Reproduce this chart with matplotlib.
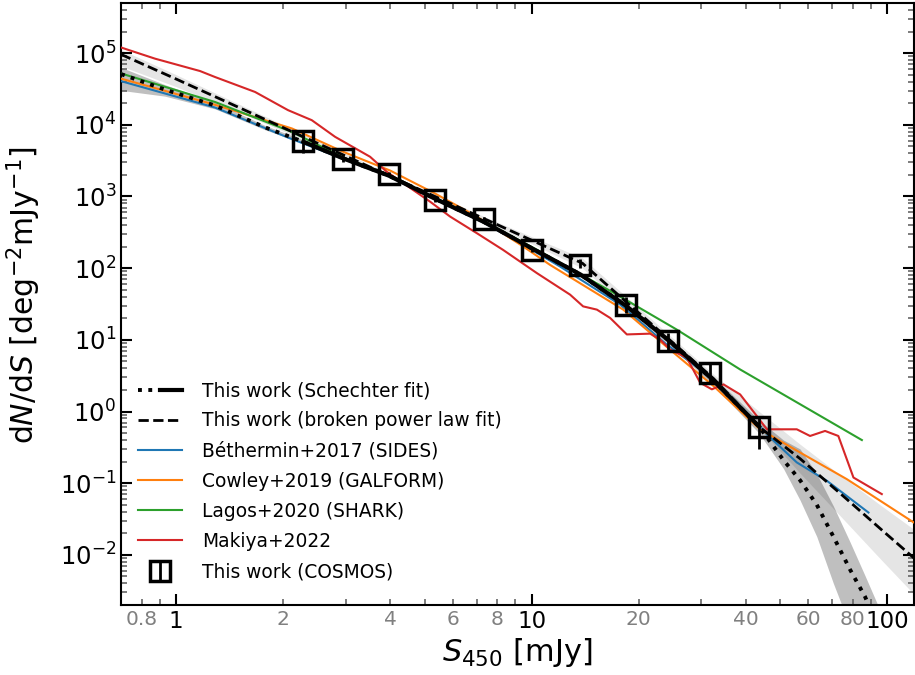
import numpy as np
import matplotlib
matplotlib.use('Agg')
import matplotlib.pyplot as plt
from matplotlib.lines import Line2D
from matplotlib.legend_handler import HandlerTuple
from matplotlib.ticker import LogLocator, FuncFormatter, NullFormatter

# This work (COSMOS) number counts
s_obs = np.array([2.28, 2.95, 3.97, 5.35, 7.35, 10.03, 13.7, 18.4, 24.2, 31.8, 43.6])
n_obs = np.array([5900, 3330, 2055, 894, 486, 180, 111, 31, 9.5, 3.5, 0.60])
err_lo = np.array([1850, 300, 150, 60, 30, 12, 12, 7, 2.6, 1.1, 0.30])
err_hi = np.array([2000, 300, 150, 60, 30, 12, 25, 9, 3.0, 1.3, 0.27])

# Schechter fit and its band
s_sch = np.array([0.70, 0.93, 1.29, 1.78, 2.28, 2.95, 3.97, 5.35, 7.35, 10.0, 13.7,
                  18.4, 24.2, 31.8, 43.6, 51.1, 56.9, 63.4, 70.6, 78.7, 86.7, 95.0])
n_sch = np.array([51000, 31000, 18500, 9200, 5800, 3400, 1950, 930, 440, 190, 82,
                  30, 10, 3.0, 0.62, 0.21, 0.11, 0.05, 0.018, 0.0062, 0.0026, 0.0009])
sch_hi = np.array([63100, 36300, 20400, 9770, 6170, 3550, 2040, 977, 457, 200, 87,
                   32.4, 11.0, 3.39, 0.76, 0.40, 0.30, 0.135, 0.048, 0.015, 0.0051, 0.0018])
sch_lo = np.array([30200, 25100, 16600, 8510, 5500, 3240, 1860, 891, 417, 182, 77.6,
                   27.5, 8.9, 2.57, 0.50, 0.16, 0.058, 0.018, 0.004, 0.001, 0.0003, 0.0001])

# broken power law fit and its band
s_bpl = np.array([0.70, 1.0, 1.5, 2.28, 3.97, 7.35, 13.9, 18.1, 24.0, 32.5, 43.9,
                  56.9, 73.8, 95.5, 120])
n_bpl = np.array([96000, 43500, 17500, 6800, 1950, 490, 117, 36.8, 10.8, 2.87, 0.60,
                  0.22, 0.072, 0.0234, 0.0087])
bpl_hi = np.array([112000, 50000, 19500, 7400, 2090, 525, 138, 43.7, 12.6, 3.3, 0.98,
                   0.35, 0.13, 0.05, 0.022])
bpl_lo = np.array([66000, 34000, 15000, 6200, 1820, 457, 100, 30.9, 9.1, 2.4, 0.575,
                   0.138, 0.035, 0.0089, 0.0027])

# models
s_beth = [0.703, 1.287, 2.07, 2.95, 3.97, 5.35, 7.35, 10.56, 12.0, 17.74, 24.0,
          32.5, 41.2, 45.9, 55.7, 67.7, 88.6]
n_beth = [40400, 17400, 6600, 3350, 1950, 920, 430, 154, 106, 31, 8.6,
          2.8, 0.865, 0.48, 0.195, 0.108, 0.039]

s_cowley = [0.703, 1.287, 2.116, 2.95, 4.0, 5.35, 7.01, 9.48, 11.27, 18.1, 24.5,
            32.5, 43.9, 56.9, 77.0, 118.6]
n_cowley = [43800, 19000, 8900, 4200, 2300, 1100, 524, 200, 111, 26.4, 7.3,
            2.26, 0.565, 0.268, 0.114, 0.0285]

s_lagos = [0.703, 1.287, 2.116, 2.95, 3.97, 5.35, 7.35, 10.56, 17.37, 25.6, 38.6, 84.9]
n_lagos = [51700, 20800, 7960, 3500, 2000, 960, 450, 171, 42.7, 13.9, 3.86, 0.40]

s_makiya = [0.703, 0.873, 1.168, 1.287, 1.668, 2.065, 2.408, 2.801, 3.513, 3.914,
            5.18, 5.90, 7.01, 8.31, 10.34, 12.83, 13.96, 15.26, 16.63, 18.53, 21.54,
            22.98, 24.52, 27.33, 29.79, 32.13, 34.64, 38.60, 43.0, 45.9, 55.7, 60.7,
            66.9, 72.9, 80.4, 96.6]
n_makiya = [119000, 83600, 56200, 46400, 28700, 16000, 11600, 6790, 3580, 2210,
            847, 524, 308, 180, 85.5, 42.7, 29.3, 26.4, 20.2, 11.9, 12.2,
            10.1, 7.33, 5.62, 2.52, 2.04, 2.39, 1.73, 0.865, 0.565, 0.565, 0.456,
            0.536, 0.456, 0.12, 0.0705]

fig, ax = plt.subplots(figsize=(9.15, 6.75), dpi=100)
fig.subplots_adjust(left=121/915, right=914/915, bottom=1-605/675, top=1-3/675)

ax.fill_between(s_bpl, bpl_lo, bpl_hi, color='k', alpha=0.1, lw=0, zorder=1)
ax.fill_between(s_sch, sch_lo, sch_hi, color='k', alpha=0.25, lw=0, zorder=1)

l_beth, = ax.plot(s_beth, n_beth, color='C0', lw=1.5, zorder=3)
l_cow, = ax.plot(s_cowley, n_cowley, color='C1', lw=1.5, zorder=3)
l_lag, = ax.plot(s_lagos, n_lagos, color='C2', lw=1.5, zorder=3)
l_mak, = ax.plot(s_makiya, n_makiya, color='C3', lw=1.5, zorder=3)

ax.plot(s_sch, n_sch, color='k', ls=':', lw=2.8, zorder=4)
inrange = (s_sch >= s_obs.min()) & (s_sch <= s_obs.max())
ax.plot(s_sch[inrange], n_sch[inrange], color='k', lw=3, zorder=5)
l_bpl, = ax.plot(s_bpl, n_bpl, color='k', ls='--', lw=2, zorder=4)

eb = ax.errorbar(s_obs, n_obs, yerr=[err_lo, err_hi], fmt='s', mfc='none', mec='k',
                 ms=14, mew=2.5, ecolor='k', elinewidth=2, zorder=10)

ax.set_xscale('log')
ax.set_yscale('log')
ax.set_xlim(0.7, 119)
ax.set_ylim(2e-3, 5e5)

ax.yaxis.set_major_locator(LogLocator(base=10, numticks=20))
ax.yaxis.set_minor_locator(LogLocator(base=10, subs=np.arange(2, 10), numticks=100))
ax.yaxis.set_minor_formatter(NullFormatter())

shown = {0.8, 2, 4, 6, 8, 20, 40, 60, 80}
ax.xaxis.set_major_formatter(FuncFormatter(lambda v, p: '%g' % v))
ax.xaxis.set_minor_formatter(FuncFormatter(
    lambda v, p: ('%g' % v) if round(v, 3) in shown else ''))

ax.tick_params(which='both', direction='in', top=True, right=True)
ax.tick_params(which='major', length=8, width=1.5, labelsize=16.5)
ax.tick_params(axis='y', which='major', labelsize=17.5)
ax.tick_params(which='minor', length=4.5, width=1.2, color='0.4')
ax.tick_params(axis='x', which='minor', labelsize=14.5, labelcolor='gray')
for sp in ax.spines.values():
    sp.set_linewidth(1.5)

ax.set_xlabel(r'$S_{450}$ [mJy]', fontsize=22, labelpad=2)
ax.set_ylabel(r'd$N$/d$S$ [deg$^{-2}$mJy$^{-1}$]', fontsize=21.5)
ax.yaxis.set_label_coords(-0.098, 0.515)

h_sch = (Line2D([], [], color='k', ls=':', lw=2.8), Line2D([], [], color='k', lw=3))
handles = [h_sch, l_bpl, l_beth, l_cow, l_lag, l_mak, eb]
labels = ['This work (Schechter fit)', 'This work (broken power law fit)',
          'Béthermin+2017 (SIDES)', 'Cowley+2019 (GALFORM)', 'Lagos+2020 (SHARK)',
          'Makiya+2022', 'This work (COSMOS)']
ax.legend(handles, labels, loc='lower left', frameon=False, fontsize=13.4,
          handlelength=2.4, handletextpad=1.05, labelspacing=0.6,
          bbox_to_anchor=(0.0, 0.012),
          handler_map={tuple: HandlerTuple(ndivide=None, pad=0)})

fig.savefig('out.png', dpi=100)
